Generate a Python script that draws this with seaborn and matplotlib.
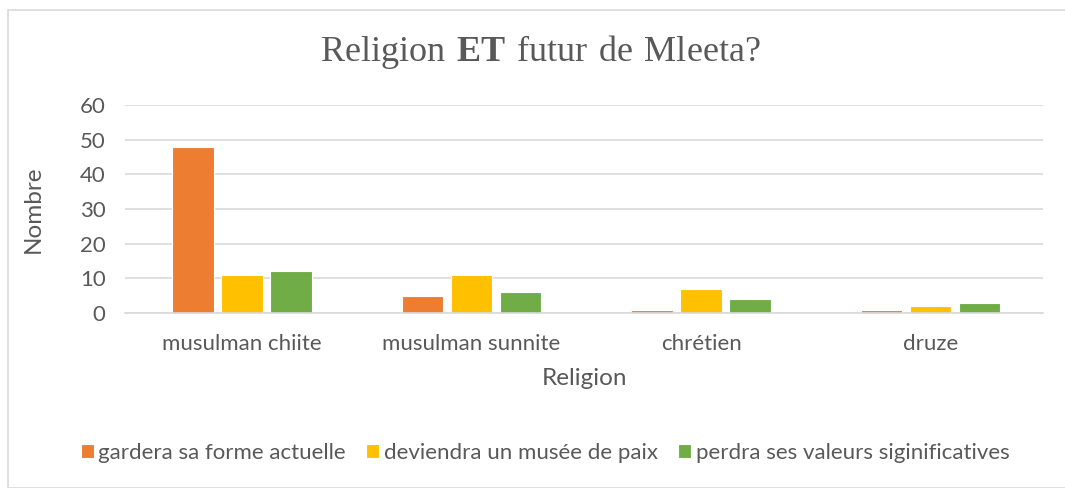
import matplotlib.pyplot as plt
import matplotlib.patches as mpatches
import seaborn as sns
import pandas as pd

religions = ["musulman chiite", "musulman sunnite", "chrétien", "druze"]
series = ["gardera sa forme actuelle", "deviendra un musée de paix", "perdra ses valeurs siginificatives"]
gardera = [48, 5, 1, 1]
deviendra = [11, 11, 7, 2]
perdra = [12, 6, 4, 3]
colors = ["#ED7D31", "#FFC000", "#70AD47"]

df = pd.DataFrame({
    "Religion": religions * 3,
    "Avis": [s for s in series for _ in religions],
    "Nombre": gardera + deviendra + perdra,
})

sns.set_theme(style="white")
plt.rcParams["font.family"] = ["Lato", "DejaVu Sans"]
plt.rcParams["mathtext.fontset"] = "custom"
plt.rcParams["mathtext.rm"] = "Liberation Serif"
plt.rcParams["mathtext.bf"] = "Liberation Serif:bold"
grey = "#595959"

fig = plt.figure(figsize=(10.65, 4.88), dpi=100)
fig.patches.append(mpatches.Rectangle((8 / 1065, 0), 1.0, 478 / 488, transform=fig.transFigure,
                                      fill=False, edgecolor="#D9D9D9", linewidth=1.2))
ax = fig.add_axes([125 / 1065, 175 / 488, 918 / 1065, 208 / 488])

sns.barplot(data=df, x="Religion", y="Nombre", hue="Avis", palette=colors, ax=ax, saturation=1,
            width=0.64, gap=0.15, edgecolor="white", linewidth=0.8, legend=True)

ax.set_ylim(0, 60)
ax.set_yticks(range(0, 61, 10))
ax.set_xlim(-0.51, 3.49)
ax.yaxis.grid(True, color="#D9D9D9", linewidth=1.2)
ax.set_axisbelow(True)
for s in ["top", "right", "left"]:
    ax.spines[s].set_visible(False)
ax.spines["bottom"].set_color("#D9D9D9")
ax.spines["bottom"].set_linewidth(1.2)
ax.tick_params(axis="both", length=0, colors=grey, labelsize=16)
ax.tick_params(axis="x", pad=15)
ax.tick_params(axis="y", pad=14)
ax.set_xlabel("Religion", fontsize=17.5, color=grey)
ax.set_ylabel("Nombre", fontsize=17.5, color=grey)
ax.xaxis.set_label_coords(0.5, -0.265)
ax.yaxis.set_label_coords(-0.088, 0.5)

handles, labels = ax.get_legend_handles_labels()
ax.legend_.remove()
fig.legend(handles, labels, loc="center", bbox_to_anchor=(545 / 1065, 1 - 453 / 488), ncol=3,
           frameon=False, fontsize=16, labelcolor=grey, handlelength=0.6, handleheight=0.6,
           handletextpad=0.2, columnspacing=0.9)

fig.text(540 / 1065, 1 - 52 / 488, r"$\mathrm{Religion}\ \mathbf{ET}\ \mathrm{futur\ de\ Mleeta?}$",
         ha="center", va="center", fontsize=26, color=grey)

fig.savefig("out.png", dpi=100)
